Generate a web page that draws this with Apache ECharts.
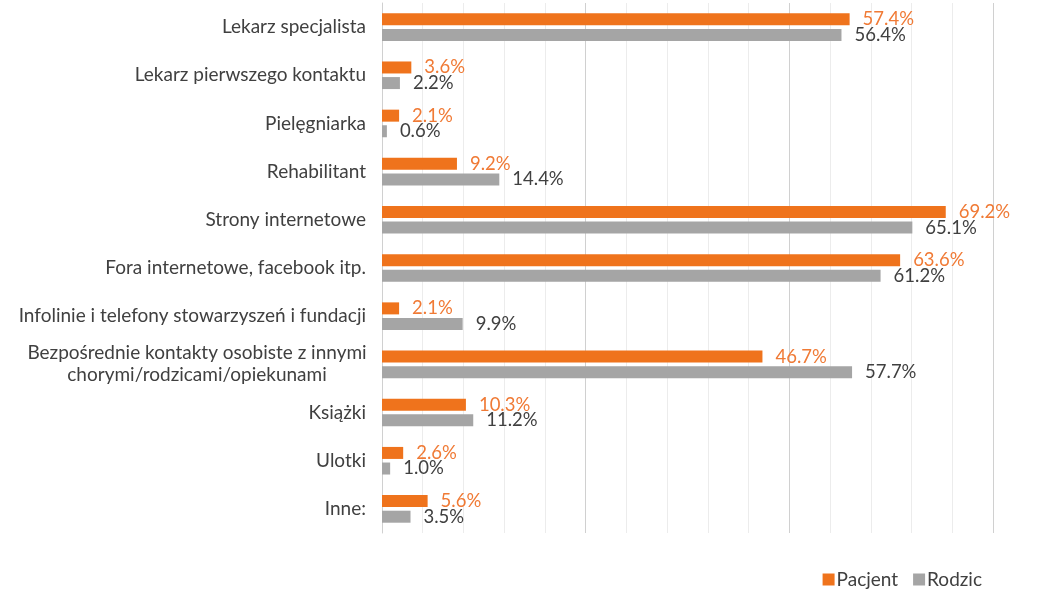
<!DOCTYPE html>
<html>
<head>
<meta charset="utf-8">
<script src="https://cdn.jsdelivr.net/npm/echarts@6/dist/echarts.min.js"></script>
<style>
  html, body { margin: 0; padding: 0; background: #fff; }
  #chart { width: 1040px; height: 598px; }
</style>
</head>
<body>
<div id="chart"></div>
<script>
var categories = [
  'Lekarz specjalista',
  'Lekarz pierwszego kontaktu',
  'Pielęgniarka',
  'Rehabilitant',
  'Strony internetowe',
  'Fora internetowe, facebook itp.',
  'Infolinie i telefony stowarzyszeń i fundacji',
  'Bezpośrednie kontakty osobiste z innymi\nchorymi/rodzicami/opiekunami',
  'Książki',
  'Ulotki',
  'Inne:'
];
var pacjent = [57.4, 3.6, 2.1, 9.2, 69.2, 63.6, 2.1, 46.7, 10.3, 2.6, 5.6];
var rodzic = [56.4, 2.2, 0.6, 14.4, 65.1, 61.2, 9.9, 57.7, 11.2, 1.0, 3.5];

var dom = document.getElementById('chart');
var myChart = echarts.init(dom);
var font = 'Lato, "Open Sans", sans-serif';

var option = {
  backgroundColor: '#fff',
  animation: false,
  color: ['#ef731c', '#a5a5a5'],
  textStyle: { fontFamily: font },
  grid: { left: 382, right: 47, top: 3, bottom: 65 },
  legend: {
    right: 53,
    bottom: 4,
    itemWidth: 12,
    itemHeight: 12,
    itemGap: 15,
    icon: 'rect',
    textStyle: { fontSize: 19, color: '#404040', fontFamily: font, padding: [0, 0, 0, -3] },
    data: ['Pacjent', 'Rodzic']
  },
  xAxis: {
    type: 'value',
    min: 0,
    max: 75,
    interval: 5,
    axisLabel: { show: false },
    axisTick: { show: false },
    axisLine: { show: false },
    splitLine: {
      lineStyle: { color: ['#d0d0d0', '#ececec', '#ececec', '#ececec', '#ececec'], width: 1 }
    }
  },
  yAxis: {
    type: 'category',
    inverse: true,
    data: categories,
    axisLine: { lineStyle: { color: '#d0d0d0' } },
    axisTick: { length: 5, lineStyle: { color: '#d0d0d0' } },
    axisLabel: {
      fontSize: 19,
      color: '#404040',
      fontFamily: font,
      margin: 16,
      lineHeight: 22,
      formatter: function (v) {
        if (v.indexOf('\n') < 0) return v;
        return v.split('\n').map(function (s) { return '{c|' + s + '}'; }).join('\n');
      },
      rich: {
        c: { width: 338, align: 'center', fontSize: 19, color: '#404040', fontFamily: font, lineHeight: 22 }
      }
    }
  },
  series: [
    {
      name: 'Pacjent',
      type: 'bar',
      data: pacjent,
      barWidth: 12,
      barGap: '30%',
      label: {
        show: true,
        position: 'right',
        distance: 13,
        fontSize: 18.5,
        color: '#f07a35',
        fontFamily: font,
        formatter: function (p) { return p.value.toFixed(1) + '%'; }
      }
    },
    {
      name: 'Rodzic',
      type: 'bar',
      data: rodzic,
      barWidth: 12,
      label: {
        show: true,
        position: 'right',
        distance: 13,
        fontSize: 18.5,
        color: '#404040',
        fontFamily: font,
        formatter: function (p) { return p.value.toFixed(1) + '%'; }
      }
    }
  ]
};
myChart.setOption(option, true);
</script>
</body>
</html>
